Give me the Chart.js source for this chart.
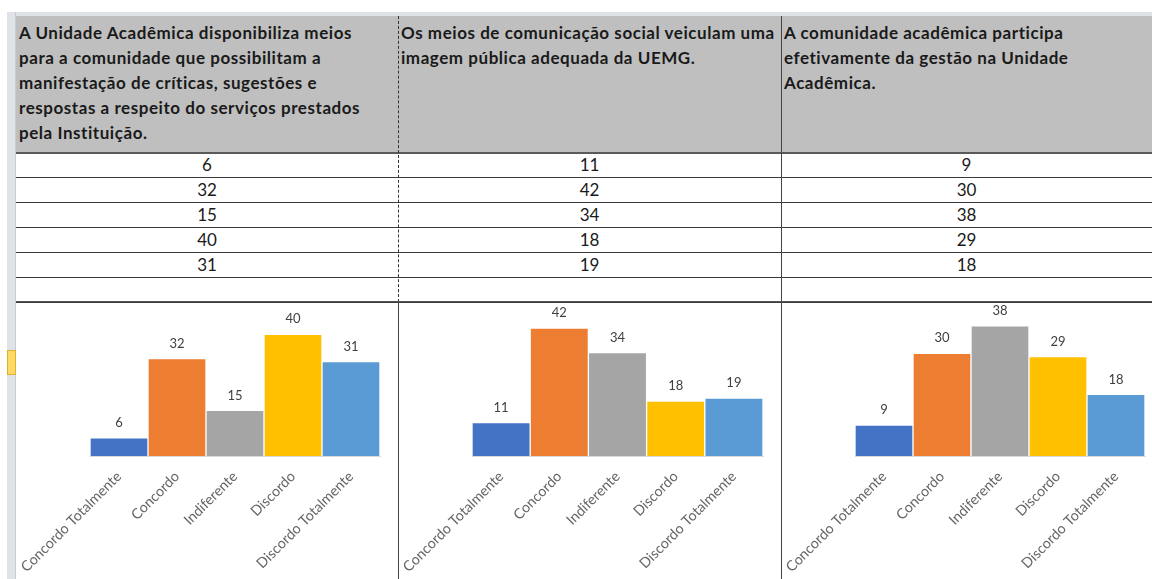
<!DOCTYPE html>
<html>
<head>
<meta charset="utf-8">
<script src="https://cdn.jsdelivr.net/npm/chart.js@4"></script>
<style>
  body { margin: 0; width: 1152px; height: 579px; overflow: hidden; background: #fff; font-family: Lato, "Open Sans", sans-serif; position: relative; }
  .abs { position: absolute; box-sizing: border-box; }
  .gutter { left: 7px; top: 12px; width: 9px; height: 567px; background: #dfe3e8; border-right: 1px solid #c8ccd0; }
  .topband { left: 7px; top: 12px; width: 1145px; height: 4px; background: #dfe3e8; }
  .head { top: 16px; height: 138px; background: #bfbfbf; border-bottom: 2px solid #5a5a5a; padding: 4px 0 0 3px; font-weight: bold; font-size: 17px; letter-spacing: 0.55px; line-height: 25px; color: #1a1a1a; white-space: nowrap; overflow: hidden; }
  .cell { height: 25px; border-bottom: 1.5px solid #3a3a3a; text-align: center; font-size: 17px; line-height: 24px; color: #1a1a1a; }
  .chartbox { top: 303px; height: 276px; }
</style>
</head>
<body>
<div class="abs topband"></div>
<div class="abs gutter"></div>
<div class="abs" style="left:7px;top:350px;width:9px;height:25px;background:#ffd966;border:1px solid #e0b030"></div>
<div id="table"></div>
<div class="abs chartbox" style="left:16px;width:382px"><canvas id="c0"></canvas></div>
<div class="abs chartbox" style="left:399px;width:382px"><canvas id="c1"></canvas></div>
<div class="abs chartbox" style="left:782px;width:370px"><canvas id="c2"></canvas></div>
<div class="abs" style="left:398px;top:16px;width:0;height:286px;border-left:1px dashed #333"></div>
<div class="abs" style="left:398px;top:302px;width:0;height:277px;border-left:1.5px solid #444"></div>
<div class="abs" style="left:781px;top:16px;width:0;height:563px;border-left:1.5px solid #444"></div>
<div class="abs" style="left:16px;top:301px;width:1136px;height:0;border-top:1.5px solid #555"></div>
<script>
const categories = ["Concordo Totalmente", "Concordo", "Indiferente", "Discordo", "Discordo Totalmente"];
const questions = [
  ["A Unidade Acadêmica disponibiliza meios", "para a comunidade que possibilitam a", "manifestação de críticas, sugestões e", "respostas a respeito do serviços prestados", "pela Instituição."],
  ["Os meios de comunicação social veiculam uma", "imagem pública adequada da UEMG."],
  ["A comunidade acadêmica participa", "efetivamente da gestão na Unidade", "Acadêmica."]
];
const valuesQ1 = [6, 32, 15, 40, 31];
const valuesQ2 = [11, 42, 34, 18, 19];
const valuesQ3 = [9, 30, 38, 29, 18];
const axisMax = [45, 45, 40];
const barColors = ["#4472C4", "#ED7D31", "#A5A5A5", "#FFC000", "#5B9BD5"];

const allValues = [valuesQ1, valuesQ2, valuesQ3];
const cols = [{ left: 16, width: 382 }, { left: 398, width: 383 }, { left: 781, width: 371 }];
const pads = [{ left: 74, right: 18 }, { left: 73, right: 18 }, { left: 73, right: 7 }];

// spreadsheet cells
const table = document.getElementById("table");
cols.forEach((c, i) => {
  const h = document.createElement("div");
  h.className = "abs head";
  h.style.left = c.left + "px";
  h.style.width = c.width + "px";
  h.innerHTML = questions[i].join("<br>");
  table.appendChild(h);
  for (let r = 0; r < 6; r++) {
    const d = document.createElement("div");
    d.className = "abs cell";
    d.style.left = c.left + "px";
    d.style.width = c.width + "px";
    d.style.top = (153 + r * 25) + "px";
    d.textContent = r < 5 ? allValues[i][r] : "";
    table.appendChild(d);
  }
});

const valueLabels = {
  id: "valueLabels",
  afterDatasetsDraw(chart) {
    const ctx = chart.ctx;
    const meta = chart.getDatasetMeta(0);
    ctx.save();
    ctx.font = "13px Lato";
    ctx.fillStyle = "#404040";
    ctx.textAlign = "center";
    ctx.textBaseline = "middle";
    meta.data.forEach((bar, i) => {
      ctx.fillText(chart.data.datasets[0].data[i], bar.x, bar.y - 15);
    });
    ctx.restore();
  }
};

allValues.forEach((vals, i) => {
  new Chart(document.getElementById("c" + i), {
    type: "bar",
    data: {
      labels: categories,
      datasets: [{ data: vals, backgroundColor: barColors, borderColor: "rgba(255,255,255,0.6)", borderWidth: 1, categoryPercentage: 1, barPercentage: 1 }]
    },
    options: {
      responsive: true,
      maintainAspectRatio: false,
      animation: false,
      layout: { padding: { left: pads[i].left, right: pads[i].right, top: 16, bottom: 0 } },
      plugins: { legend: { display: false }, tooltip: { enabled: false } },
      scales: {
        x: {
          grid: { display: false },
          border: { display: true, color: "#d9d9d9", width: 1 },
          ticks: { minRotation: 45, maxRotation: 45, color: "#666666", font: { family: "Lato", size: 14.3 }, padding: 4 },
          afterFit: (scale) => { scale.height = 123; scale.paddingLeft = 0; scale.paddingRight = 0; }
        },
        y: { display: false, min: 0, max: axisMax[i] }
      }
    },
    plugins: [valueLabels]
  });
});
</script>
</body>
</html>
